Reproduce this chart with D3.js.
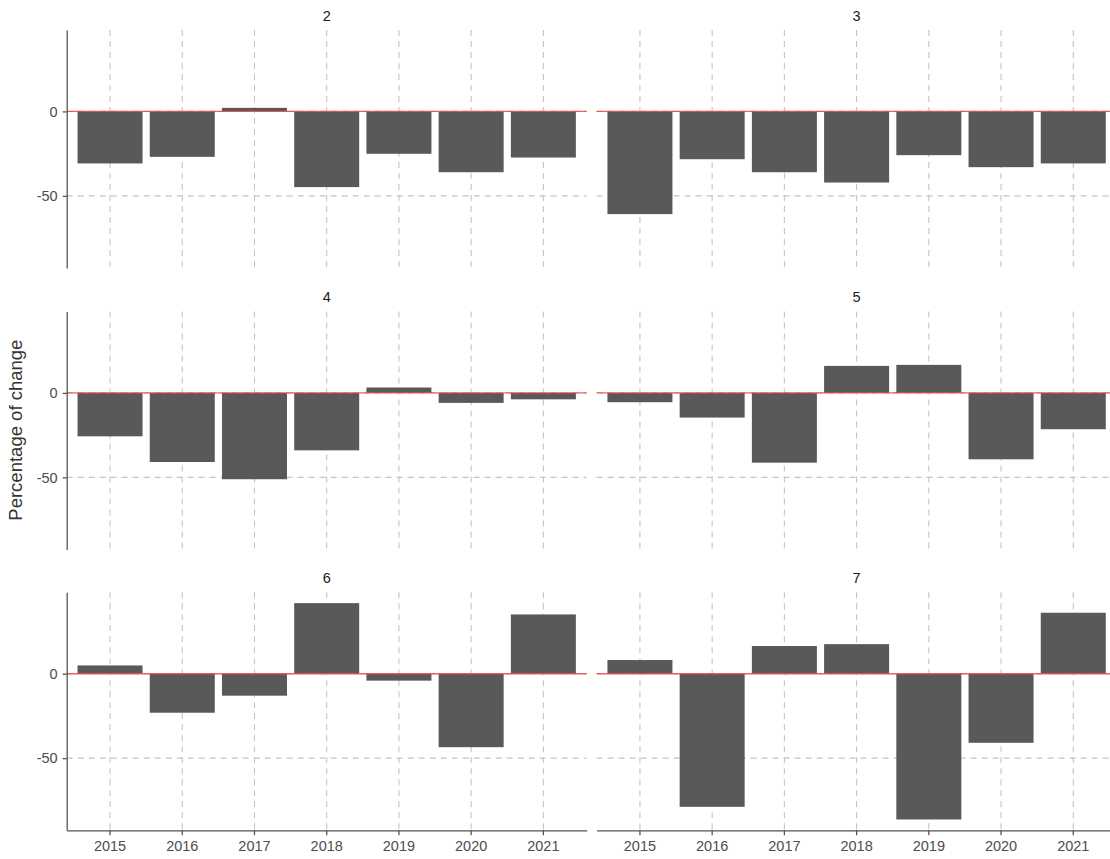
<!DOCTYPE html>
<html>
<head>
<meta charset="utf-8">
<script src="https://cdn.jsdelivr.net/npm/d3@7"></script>
<style>
  body { margin: 0; background: #fff; }
  text { font-family: "Liberation Sans", Arial, sans-serif; }
</style>
</head>
<body>
<div class="mainChart"></div>
<script>
const years = ['2015', '2016', '2017', '2018', '2019', '2020', '2021']
const facets = ['2', '3', '4', '5', '6', '7']

const change2 = [-30.8, -26.9, 2.1, -44.8, -25.1, -36.0, -27.3]
const change3 = [-60.8, -28.3, -36.0, -42.1, -25.9, -33.0, -30.8]
const change4 = [-25.7, -40.9, -51.1, -34.0, 3.2, -5.9, -3.8]
const change5 = [-5.5, -14.6, -41.3, 16.0, 16.6, -39.3, -21.5]
const change6 = [4.9, -23.1, -13.0, 41.8, -4.1, -43.5, 35.1]
const change7 = [8.1, -78.8, 16.4, 17.5, -86.3, -40.9, 36.1]

const yTicks = [0, -50]

const seriesByFacet = [change2, change3, change4, change5, change6, change7]

let width = 1110
let height = 859
let panelW = 520
let panelH = 238
let colX = [66.7, 596.6]
let rowY = [30, 311.5, 592.3]

let allValues = seriesByFacet.flat()
let lo = d3.min(allValues)
let hi = d3.max(allValues)
let pad = (hi - lo) * 0.05

let svg = d3.select('.mainChart').append('svg')
  .attr('width', width)
  .attr('height', height)
  .style('background', '#fff')

let yScale = d3.scaleLinear()
  .domain([lo - pad, hi + pad])
  .range([panelH, 0])

let xScale = d3.scaleBand()
  .domain(years)
  .range([0, panelW])
  .paddingInner(0.1)
  .paddingOuter(0.15)

let center = d => xScale(d) + xScale.bandwidth() / 2

facets.forEach((name, i) => {
  let col = i % 2
  let row = Math.floor(i / 2)
  let values = seriesByFacet[i]
  let data = years.map((y, j) => ({ year: y, value: values[j] }))

  let g = svg.append('g')
    .attr('transform', `translate(${colX[col]},${rowY[row]})`)

  // dashed grid
  g.selectAll('.vgrid')
    .data(years)
    .enter().append('line')
      .attr('x1', center)
      .attr('x2', center)
      .attr('y1', 0)
      .attr('y2', panelH)
      .style('stroke', '#c4c4c4')
      .style('stroke-width', 1.1)
      .style('stroke-dasharray', '6,5')

  g.selectAll('.hgrid')
    .data(yTicks)
    .enter().append('line')
      .attr('x1', 0)
      .attr('x2', panelW)
      .attr('y1', d => yScale(d))
      .attr('y2', d => yScale(d))
      .style('stroke', '#c4c4c4')
      .style('stroke-width', 1.1)
      .style('stroke-dasharray', '6,5')

  g.selectAll('rect')
    .data(data)
    .enter().append('rect')
      .attr('x', d => xScale(d.year))
      .attr('width', xScale.bandwidth())
      .attr('y', d => yScale(Math.max(0, d.value)))
      .attr('height', d => Math.abs(yScale(d.value) - yScale(0)))
      .style('fill', '#595959')

  g.append('line')
    .attr('x1', 0)
    .attr('x2', panelW)
    .attr('y1', yScale(0))
    .attr('y2', yScale(0))
    .style('stroke', '#e8474c')
    .style('stroke-opacity', 0.85)
    .style('stroke-width', 1.4)

  g.append('text')
    .attr('x', panelW / 2)
    .attr('y', -9.5)
    .attr('text-anchor', 'middle')
    .style('font-size', '14.5px')
    .style('fill', '#1a1a1a')
    .text(name)

  if (col === 0) {
    let yAxis = g.append('g')
      .call(d3.axisLeft(yScale).tickValues(yTicks).tickFormat(d => String(d))
        .tickSize(4).tickSizeOuter(0).tickPadding(5))
    yAxis.select('.domain').style('stroke', '#555').style('stroke-width', 1.3)
    yAxis.selectAll('.tick line').style('stroke', '#555').style('stroke-width', 1.3)
    yAxis.selectAll('text')
      .style('font-size', '14.5px')
      .style('font-family', '"Liberation Sans", Arial, sans-serif')
      .style('fill', '#4d4d4d')
  }

  if (row === 2) {
    let xAxis = g.append('g')
      .attr('transform', `translate(0,${panelH})`)
      .call(d3.axisBottom(xScale).tickSize(5).tickSizeOuter(0).tickPadding(5))
    xAxis.select('.domain').style('stroke', '#555').style('stroke-width', 1.3)
    xAxis.selectAll('.tick line').style('stroke', '#555').style('stroke-width', 1.3)
    xAxis.selectAll('text')
      .style('font-size', '14.5px')
      .style('font-family', '"Liberation Sans", Arial, sans-serif')
      .style('fill', '#4d4d4d')
  }
})

svg.append('text')
  .attr('transform', `translate(22,${(rowY[0] + rowY[2] + panelH) / 2}) rotate(-90)`)
  .attr('text-anchor', 'middle')
  .style('font-size', '18.5px')
  .style('fill', '#333')
  .text('Percentage of change')
</script>
</body>
</html>
